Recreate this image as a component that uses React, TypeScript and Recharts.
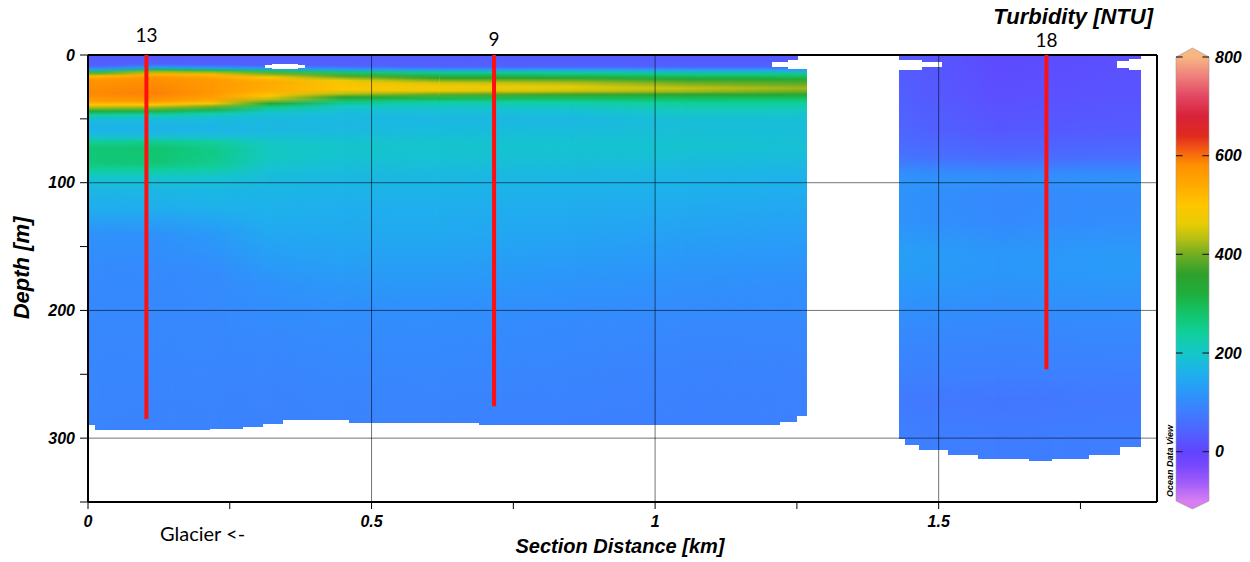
import React from 'react'
import { ComposedChart, Line, XAxis, YAxis, ReferenceArea, ReferenceLine } from 'recharts'

// colour scale: value -> colour
const scaleValues = [-100, -60, -25, 0, 40, 80, 120, 160, 200, 240, 280, 320, 360, 400, 430, 460, 500, 540, 580, 610, 640, 680, 720, 760, 800]
const scaleColors = ['#d67ef2', '#9c5afa', '#7446ff', '#6244ff', '#5062ff', '#3f7dff', '#2b97fa', '#1eb1ec', '#14c7c9', '#10cf9c', '#12c46a', '#1fae3c', '#2ea02c', '#72ad22', '#b4be14', '#e6cc06', '#ffc600', '#ffaa00', '#ff9200', '#f55e12', '#e02a1e', '#d8223a', '#e24662', '#ee7e7c', '#f8b682']
const scaleTicks = [0, 200, 400, 600, 800]
const scaleRange = [-100, 800]

// axes
const XMAX = 1.885
const DEPTH_MAX = 350
const FIELD_BOTTOM = 320
const depthTicks = [0, 50, 100, 150, 200, 250, 300, 350]
const distTicks = [0, 0.25, 0.5, 0.75, 1, 1.25, 1.5, 1.75]
const distLabels = [0, 0.5, 1, 1.5]
const gridDepths = [100, 200, 300]
const gridDists = [0.5, 1, 1.5]

// stations (CTD casts)
const stationNames = ['13', '9', '18']
const stationX = [0.103, 0.716, 1.69]
const stationBottom = [285, 275, 246]
const stationLabelGap = [13, 9, 8]

// turbidity profiles [depth m, NTU] - left section (inner fjord)
const L0 = [[0, 28], [8.5, 40], [11, 120], [13, 280], [14.5, 400], [16.5, 520], [19.5, 575], [30, 585], [36, 565], [39, 500], [41.5, 420], [44, 320], [47, 235], [51, 175], [58, 162], [64, 185], [68, 245], [73, 272], [84, 268], [90, 240], [96, 195], [105, 170], [120, 155], [140, 112], [170, 100], [230, 95], [320, 90]]
const L1 = [[0, 28], [7, 40], [9.5, 120], [11.5, 290], [13, 420], [15, 530], [18, 580], [30, 590], [36, 570], [39, 500], [41.5, 410], [44, 310], [47, 225], [51, 175], [58, 162], [64, 185], [68, 250], [73, 276], [84, 272], [90, 240], [96, 195], [105, 170], [120, 155], [140, 112], [170, 100], [230, 95], [320, 88]]
const L2 = [[0, 28], [7.5, 40], [10, 120], [12, 290], [13.5, 420], [15.5, 520], [19, 565], [30, 570], [35, 550], [38, 480], [40.5, 400], [43, 305], [46, 225], [50, 178], [58, 165], [64, 185], [68, 238], [74, 258], [84, 252], [90, 228], [96, 192], [105, 172], [120, 160], [140, 125], [170, 103], [230, 95], [320, 88]]
const L3 = [[0, 30], [8, 40], [10.5, 120], [12.5, 280], [14.5, 400], [17.5, 500], [21, 540], [28, 535], [32, 500], [35, 430], [38, 340], [41, 255], [45, 195], [50, 175], [58, 170], [64, 185], [70, 205], [80, 205], [88, 192], [96, 178], [106, 168], [125, 158], [150, 138], [180, 112], [230, 95], [320, 85]]
const L4 = [[0, 30], [8.5, 40], [11, 120], [13.5, 270], [16.5, 380], [20, 470], [24, 505], [27, 495], [30, 440], [33, 360], [36, 275], [40, 205], [46, 178], [55, 170], [62, 180], [70, 195], [80, 192], [90, 180], [100, 168], [115, 158], [140, 148], [165, 132], [200, 108], [250, 95], [320, 85]]
const L5 = [[0, 30], [9, 40], [11.5, 120], [14, 260], [18, 360], [22, 450], [25, 485], [28, 470], [31, 390], [34, 300], [37, 235], [42, 190], [50, 170], [60, 180], [70, 195], [80, 190], [90, 178], [100, 168], [115, 158], [140, 148], [170, 128], [200, 108], [250, 95], [320, 85]]
const L6 = [[0, 28], [9, 40], [11.5, 130], [14, 250], [18, 340], [22, 430], [25, 465], [28, 445], [31, 370], [34, 290], [37, 235], [42, 195], [50, 172], [60, 180], [70, 192], [80, 188], [90, 176], [100, 165], [120, 152], [145, 138], [175, 118], [210, 100], [260, 90], [320, 82]]
const L7 = [[0, 26], [9, 40], [12, 140], [15, 260], [19, 340], [23, 410], [26, 440], [28.5, 420], [31, 350], [34, 290], [38, 240], [44, 205], [52, 182], [62, 188], [72, 192], [82, 182], [92, 170], [105, 160], [125, 146], [150, 128], [180, 110], [220, 95], [260, 88], [320, 82]]
const L8 = [[0, 26], [9, 40], [12, 140], [15, 260], [19, 330], [23, 395], [26, 420], [28.5, 400], [31, 340], [34, 285], [38, 240], [44, 205], [52, 182], [62, 184], [72, 188], [82, 178], [92, 165], [105, 155], [125, 142], [150, 124], [180, 108], [220, 95], [260, 88], [320, 82]]
const leftX = [0.02, 0.12, 0.22, 0.32, 0.45, 0.62, 0.85, 1.05, 1.24]
const leftProfiles = [L0, L1, L2, L3, L4, L5, L6, L7, L8]
const leftStart = 0
const leftEnd = 1.268

// right section (outer basin)
const R0 = [[0, 30], [30, 35], [60, 45], [80, 65], [92, 105], [100, 118], [110, 110], [130, 112], [155, 132], [170, 128], [190, 115], [215, 100], [250, 86], [270, 76], [300, 84], [320, 84]]
const R1 = [[0, 8], [30, 14], [60, 26], [80, 52], [92, 98], [100, 110], [110, 98], [130, 100], [155, 120], [170, 120], [190, 110], [215, 96], [250, 84], [270, 70], [300, 80], [320, 80]]
const R2 = [[0, 14], [30, 20], [60, 32], [80, 58], [92, 102], [100, 115], [110, 102], [130, 104], [155, 124], [170, 124], [190, 112], [215, 98], [250, 84], [270, 74], [300, 82], [320, 82]]
const rightX = [1.45, 1.6, 1.8]
const rightProfiles = [R0, R1, R2]
const rightStart = 1.43
const rightEnd = 1.857

// sea floor (depth of last data) along the section
const leftFloorX = [0, 0.012, 0.215, 0.273, 0.309, 0.344, 0.46, 0.69, 1.22, 1.25]
const leftFloorD = [290, 294, 293, 291, 289, 286, 288, 290, 287, 283]
const rightFloorX = [1.43, 1.44, 1.465, 1.517, 1.57, 1.66, 1.7, 1.765, 1.82]
const rightFloorD = [301, 305, 309, 313, 316, 318, 316, 313, 307]

// gaps without data near the surface [x1, x2, d1, d2]
const holes = [
  [0.312, 0.383, 7.5, 10],
  [0.325, 0.37, 6.8, 10.8],
  [1.206, 1.268, 5.5, 9.5],
  [1.235, 1.268, 4, 11],
  [1.252, 1.268, 0, 4],
  [1.43, 1.506, 5.5, 9.5],
  [1.43, 1.47, 4, 11.5],
  [1.815, 1.857, 5, 10],
  [1.835, 1.857, 3.5, 12],
]

const boldItalic = { fontFamily: '"Liberation Sans", Arial, sans-serif', fontWeight: 700, fontStyle: 'italic' as const }

function hexRgb(h: string) {
  return [parseInt(h.slice(1, 3), 16), parseInt(h.slice(3, 5), 16), parseInt(h.slice(5, 7), 16)]
}

function turbColor(v: number) {
  if (v <= scaleValues[0]) return scaleColors[0]
  const last = scaleValues.length - 1
  if (v >= scaleValues[last]) return scaleColors[last]
  let i = 0
  while (v > scaleValues[i + 1]) i++
  const t = (v - scaleValues[i]) / (scaleValues[i + 1] - scaleValues[i])
  const a = hexRgb(scaleColors[i])
  const b = hexRgb(scaleColors[i + 1])
  const c = a.map((ch, k) => Math.round(ch + (b[k] - ch) * t))
  return `rgb(${c[0]},${c[1]},${c[2]})`
}

function profileGradient(id: string, prof: number[][]) {
  return (
    <linearGradient key={id} id={id} x1="0" y1="0" x2="0" y2="1">
      {prof.map(([d, v], i) => (
        <stop key={i} offset={d / FIELD_BOTTOM} stopColor={turbColor(v)} />
      ))}
    </linearGradient>
  )
}

const cellShape = (id: string, masked: boolean) => (p: any) => (
  <rect
    x={p.x}
    y={p.y}
    width={p.width}
    height={p.height}
    fill={`url(#${id})`}
    mask={masked ? 'url(#hramp)' : undefined}
    shapeRendering="crispEdges"
  />
)

const whiteShape = (p: any) => <rect x={p.x} y={p.y} width={p.width} height={p.height} fill="#fff" shapeRendering="crispEdges" />

// columns between profiles, blended left to right
function sectionAreas(key: string, xs: number[], start: number, end: number) {
  const out: React.ReactNode[] = []
  const area = (k: string, x1: number, x2: number, id: string, masked: boolean) => (
    <ReferenceArea key={k} x1={x1} x2={x2} y1={0} y2={FIELD_BOTTOM} shape={cellShape(id, masked)} />
  )
  out.push(area(`${key}-s`, start, xs[0], `${key}0`, false))
  for (let i = 0; i < xs.length - 1; i++) {
    out.push(area(`${key}-a${i}`, xs[i], xs[i + 1], `${key}${i}`, false))
    out.push(area(`${key}-b${i}`, xs[i], xs[i + 1], `${key}${i + 1}`, true))
  }
  out.push(area(`${key}-e`, xs[xs.length - 1], end, `${key}${xs.length - 1}`, false))
  return out
}

function floorAreas(key: string, xs: number[], ds: number[], end: number) {
  return xs.map((x, i) => (
    <ReferenceArea
      key={`${key}${i}`}
      x1={x}
      x2={i < xs.length - 1 ? xs[i + 1] : end}
      y1={ds[i]}
      y2={DEPTH_MAX}
      shape={whiteShape}
    />
  ))
}

const stationLabel = (name: string, gap: number) => (p: any) =>
  p.index === 0 ? (
    <text x={p.x} y={p.y - gap} textAnchor="middle" fontFamily="Lato, sans-serif" fontSize={19} fill="#000">
      {name}
    </text>
  ) : null

const ColorBarShape = (p: any) => {
  const { x, y, width: w, height: h } = p
  const pts = `${x},${y} ${x + w / 2},${y - 9} ${x + w},${y} ${x + w},${y + h} ${x + w / 2},${y + h + 8} ${x},${y + h}`
  return (
    <g>
      <defs>
        <linearGradient id="cbarFill" gradientUnits="userSpaceOnUse" x1={0} y1={y} x2={0} y2={y + h}>
          {[...scaleValues].reverse().map((v, i) => (
            <stop key={i} offset={(800 - v) / 900} stopColor={turbColor(v)} />
          ))}
        </linearGradient>
      </defs>
      <polygon points={pts} fill="url(#cbarFill)" stroke="#9a9a9a" strokeWidth={0.6} />
    </g>
  )
}

export default function App() {
  const tickStyle = { ...boldItalic, fontSize: 16, fill: '#000' }
  const cbarData = [
    { x: 0, v: scaleRange[0] },
    { x: 1, v: scaleRange[1] },
  ]
  return (
    <div style={{ position: 'absolute', left: 0, top: 0, width: 1250, height: 562, background: '#fff' }}>
      <ComposedChart width={1250} height={562} margin={{ top: 55, right: 93, bottom: 30, left: 8 }}>
        <defs>
          {leftProfiles.map((p, i) => profileGradient(`L${i}`, p))}
          {rightProfiles.map((p, i) => profileGradient(`R${i}`, p))}
          <linearGradient id="ramp" x1="0" y1="0" x2="1" y2="0">
            <stop offset="0" stopColor="#000" />
            <stop offset="1" stopColor="#fff" />
          </linearGradient>
          <mask id="hramp" maskContentUnits="objectBoundingBox" x="0" y="0" width="1" height="1">
            <rect x="0" y="0" width="1" height="1" fill="url(#ramp)" />
          </mask>
        </defs>
        <XAxis
          type="number"
          dataKey="x"
          domain={[0, XMAX]}
          ticks={distTicks}
          allowDataOverflow
          height={30}
          tickSize={7}
          tickMargin={7}
          interval={0}
          tickFormatter={(v: number) => (distLabels.includes(v) ? String(v) : '')}
          tick={tickStyle}
          axisLine={{ stroke: '#000', strokeWidth: 2 }}
          tickLine={{ stroke: '#000' }}
        />
        <YAxis
          type="number"
          dataKey="y"
          reversed
          domain={[0, DEPTH_MAX]}
          ticks={depthTicks}
          allowDataOverflow
          width={80}
          tickSize={8}
          tickMargin={5}
          interval={0}
          tickFormatter={(v: number) => (v % 100 === 0 ? String(v) : '')}
          tick={tickStyle}
          axisLine={{ stroke: '#000', strokeWidth: 2 }}
          tickLine={{ stroke: '#000' }}
        />
        {sectionAreas('L', leftX, leftStart, leftEnd)}
        {sectionAreas('R', rightX, rightStart, rightEnd)}
        {floorAreas('lf', leftFloorX, leftFloorD, leftEnd)}
        {floorAreas('rf', rightFloorX, rightFloorD, rightEnd)}
        {holes.map(([x1, x2, d1, d2], i) => (
          <ReferenceArea key={`h${i}`} x1={x1} x2={x2} y1={d1} y2={d2} shape={whiteShape} />
        ))}
        {gridDepths.map((d) => (
          <ReferenceLine key={`gd${d}`} y={d} stroke="#000" strokeOpacity={0.55} strokeWidth={1} />
        ))}
        {gridDists.map((x) => (
          <ReferenceLine key={`gx${x}`} x={x} stroke="#000" strokeOpacity={0.55} strokeWidth={1} />
        ))}
        <ReferenceLine y={0} stroke="#000" strokeWidth={2} />
        <ReferenceLine x={XMAX} stroke="#000" strokeWidth={2} />
        {stationNames.map((name, i) => (
          <Line
            key={name}
            data={[
              { x: stationX[i], y: 0 },
              { x: stationX[i], y: stationBottom[i] },
            ]}
            dataKey="y"
            stroke="#ff1010"
            strokeWidth={4}
            dot={false}
            isAnimationActive={false}
            label={stationLabel(name, stationLabelGap[i])}
          />
        ))}
      </ComposedChart>

      <div style={{ position: 'absolute', left: 1160, top: 0, width: 90, height: 562 }}>
        <ComposedChart width={90} height={562} data={cbarData} margin={{ top: 57, right: 0, bottom: 61, left: 16 }}>
          <XAxis type="number" dataKey="x" domain={[0, 1]} hide />
          <YAxis
            type="number"
            dataKey="v"
            orientation="right"
            domain={scaleRange}
            ticks={scaleTicks}
            width={41}
            axisLine={false}
            tickLine={false}
            tickSize={0}
            tickMargin={6}
            interval={0}
            tick={tickStyle}
          />
          <ReferenceArea x1={0} x2={1} y1={scaleRange[0]} y2={scaleRange[1]} shape={ColorBarShape} />
          {scaleTicks.map((v) => (
            <ReferenceLine key={`l${v}`} segment={[{ x: 0, y: v }, { x: 0.2, y: v }]} stroke="#222" strokeWidth={1.2} />
          ))}
          {scaleTicks.map((v) => (
            <ReferenceLine key={`r${v}`} segment={[{ x: 0.8, y: v }, { x: 1, y: v }]} stroke="#222" strokeWidth={1.2} />
          ))}
          <Line dataKey="v" stroke="none" dot={false} isAnimationActive={false} />
        </ComposedChart>
      </div>

      <svg width={1250} height={562} style={{ position: 'absolute', left: 0, top: 0, pointerEvents: 'none' }}>
        <text x={1153} y={24} textAnchor="end" fontSize={22} {...boldItalic}>Turbidity [NTU]</text>
        <text x={620} y={553} textAnchor="middle" fontSize={20} {...boldItalic}>Section Distance [km]</text>
        <text x={29} y={268} textAnchor="middle" fontSize={22} transform="rotate(-90 29 268)" {...boldItalic}>Depth [m]</text>
        <text x={160} y={541} fontFamily="Lato, sans-serif" fontSize={20}>Glacier {'<-'}</text>
        <text x={1173} y={461} textAnchor="middle" fontSize={9} transform="rotate(-90 1173 461)" {...boldItalic}>Ocean Data View</text>
      </svg>
    </div>
  )
}
